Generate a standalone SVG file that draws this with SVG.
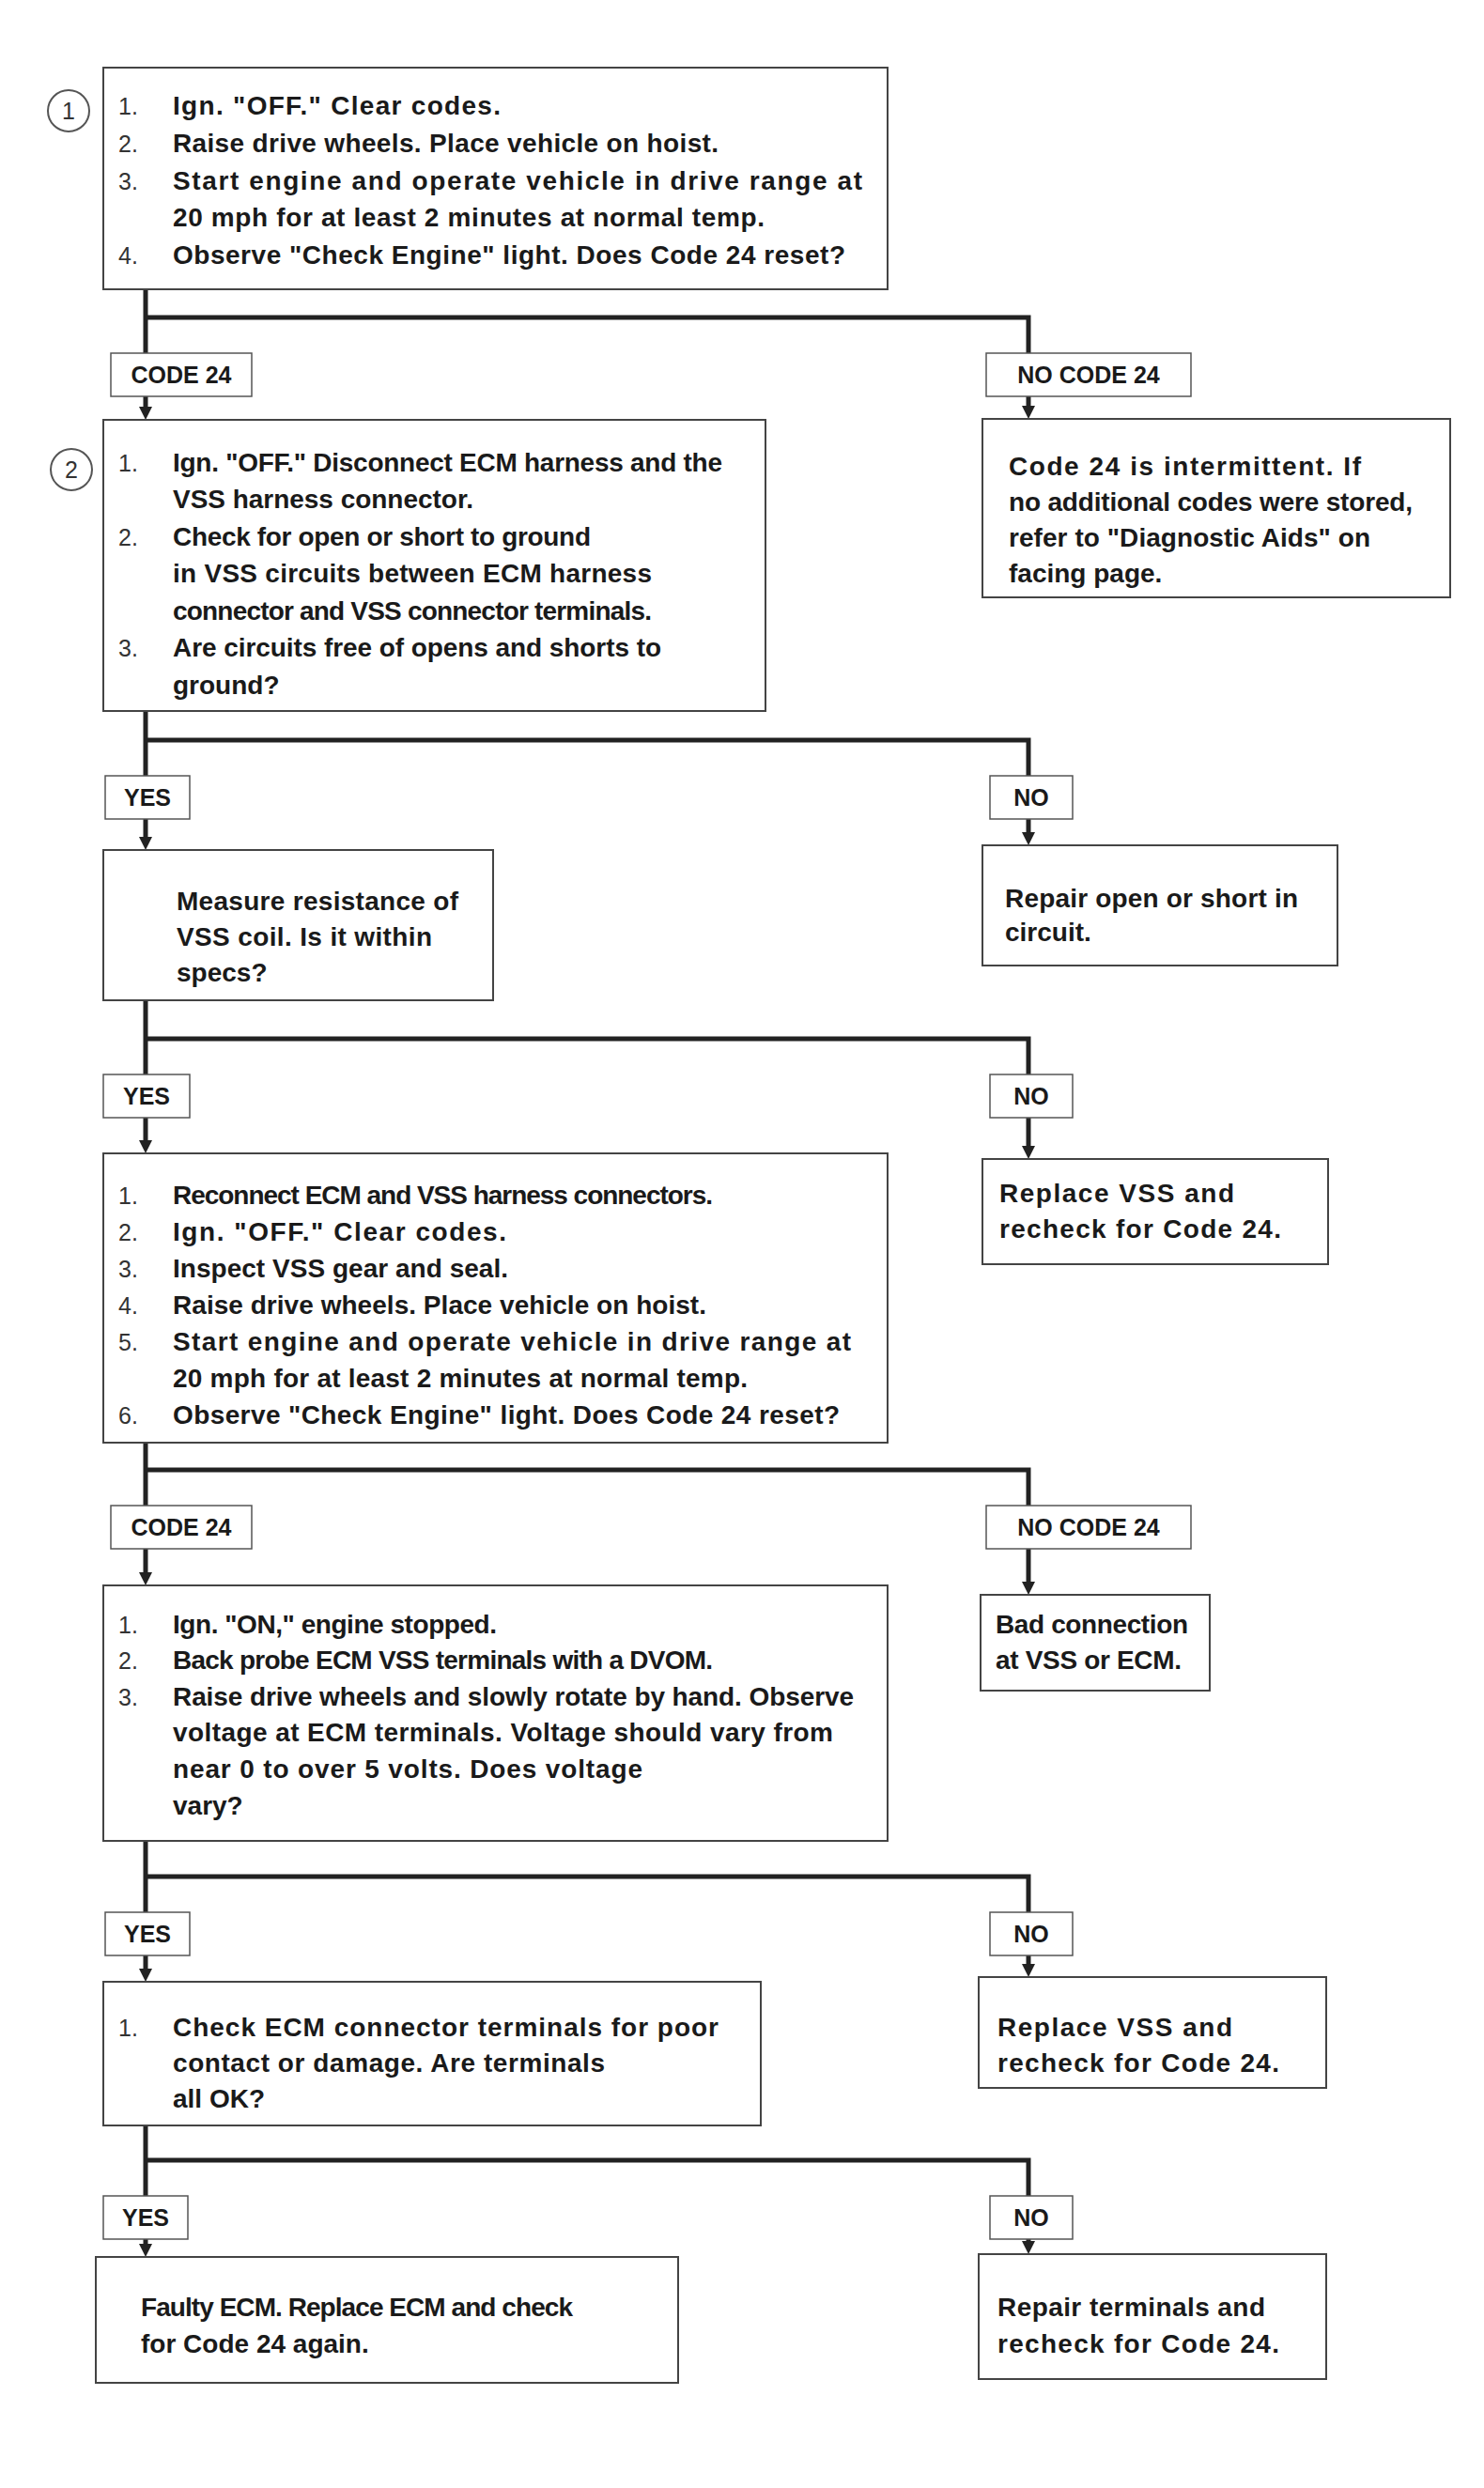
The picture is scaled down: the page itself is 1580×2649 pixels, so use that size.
<svg xmlns="http://www.w3.org/2000/svg" width="1580" height="2649" viewBox="0 0 1580 2649">
<style>
.box{fill:#fff;stroke:#444;stroke-width:2}
.lbl{fill:#fff;stroke:#555;stroke-width:1.5}
.t{font-family:"Liberation Sans",Arial,sans-serif;font-weight:bold;font-size:28px;fill:#1a1a1a}
.n{font-family:"Liberation Sans",Arial,sans-serif;font-size:25px;fill:#333}
.lt{font-family:"Liberation Sans",Arial,sans-serif;font-weight:bold;font-size:25px;fill:#1a1a1a;text-anchor:middle}
.c{fill:#fff;stroke:#555;stroke-width:2}
.ct{font-family:"Liberation Sans",Arial,sans-serif;font-size:25px;fill:#333;text-anchor:middle}
.ln{fill:none;stroke:#222;stroke-width:5;stroke-linejoin:miter}
.ar{fill:none;stroke:#222;stroke-width:5}
</style>
<defs>
<marker id="arr" viewBox="0 0 14 14" markerWidth="14" markerHeight="14" refX="0" refY="7" orient="auto" markerUnits="userSpaceOnUse">
<path d="M0,0 L14,7 L0,14 z" fill="#222"/>
</marker>
</defs>
<rect width="1580" height="2649" fill="#fff"/>

<g id="connectors">
<path class="ln" d="M155,308 V338 H1095 V376 M155,338 V376"/>
<path class="ar" d="M155,422 V433" marker-end="url(#arr)"/>
<path class="ar" d="M1095,422 V432" marker-end="url(#arr)"/>
<path class="ln" d="M155,757 V788 H1095 V826 M155,788 V826"/>
<path class="ar" d="M155,872 V891" marker-end="url(#arr)"/>
<path class="ar" d="M1095,872 V886" marker-end="url(#arr)"/>
<path class="ln" d="M155,1065 V1106 H1095 V1144 M155,1106 V1144"/>
<path class="ar" d="M155,1190 V1214" marker-end="url(#arr)"/>
<path class="ar" d="M1095,1190 V1220" marker-end="url(#arr)"/>
<path class="ln" d="M155,1536 V1565 H1095 V1603 M155,1565 V1603"/>
<path class="ar" d="M155,1649 V1674" marker-end="url(#arr)"/>
<path class="ar" d="M1095,1649 V1684" marker-end="url(#arr)"/>
<path class="ln" d="M155,1960 V1998 H1095 V2036 M155,1998 V2036"/>
<path class="ar" d="M155,2082 V2096" marker-end="url(#arr)"/>
<path class="ar" d="M1095,2082 V2091" marker-end="url(#arr)"/>
<path class="ln" d="M155,2263 V2300 H1095 V2338 M155,2300 V2338"/>
<path class="ar" d="M155,2384 V2389" marker-end="url(#arr)"/>
<path class="ar" d="M1095,2384 V2386" marker-end="url(#arr)"/>
</g>

<g id="marker1"><circle class="c" cx="73" cy="118" r="22"/><text class="ct" x="73" y="127">1</text></g>
<g id="marker2"><circle class="c" cx="76" cy="500" r="22"/><text class="ct" x="76" y="509">2</text></g>

<g id="boxA">
<rect class="box" x="110" y="72" width="835" height="236"/>
<text class="n" x="126" y="122">1.</text><text class="t" x="184" y="122" textLength="349">Ign. "OFF." Clear codes.</text>
<text class="n" x="126" y="162">2.</text><text class="t" x="184" y="162" textLength="581">Raise drive wheels. Place vehicle on hoist.</text>
<text class="n" x="126" y="202">3.</text><text class="t" x="184" y="202" textLength="734">Start engine and operate vehicle in drive range at</text>
<text class="t" x="184" y="241" textLength="630">20 mph for at least 2 minutes at normal temp.</text>
<text class="n" x="126" y="281">4.</text><text class="t" x="184" y="281" textLength="716">Observe "Check Engine" light. Does Code 24 reset?</text>
</g>

<g id="label1L"><rect class="lbl" x="118" y="376" width="150" height="46"/><text class="lt" x="193" y="408">CODE 24</text></g>
<g id="label1R"><rect class="lbl" x="1050" y="376" width="218" height="46"/><text class="lt" x="1159" y="408">NO CODE 24</text></g>

<g id="boxB">
<rect class="box" x="1046" y="446" width="498" height="190"/>
<text class="t" x="1074" y="506" textLength="375">Code 24 is intermittent. If</text>
<text class="t" x="1074" y="544" textLength="430">no additional codes were stored,</text>
<text class="t" x="1074" y="582" textLength="385">refer to "Diagnostic Aids" on</text>
<text class="t" x="1074" y="620">facing page.</text>
</g>

<g id="boxC">
<rect class="box" x="110" y="447" width="705" height="310"/>
<text class="n" x="126" y="502">1.</text><text class="t" x="184" y="502" textLength="585">Ign. "OFF." Disconnect ECM harness and the</text>
<text class="t" x="184" y="541" textLength="320">VSS harness connector.</text>
<text class="n" x="126" y="581">2.</text><text class="t" x="184" y="581" textLength="445">Check for open or short to ground</text>
<text class="t" x="184" y="620" textLength="510">in VSS circuits between ECM harness</text>
<text class="t" x="184" y="660" textLength="510">connector and VSS connector terminals.</text>
<text class="n" x="126" y="699">3.</text><text class="t" x="184" y="699" textLength="520">Are circuits free of opens and shorts to</text>
<text class="t" x="184" y="739">ground?</text>
</g>

<g id="label2L"><rect class="lbl" x="112" y="826" width="90" height="46"/><text class="lt" x="157" y="858">YES</text></g>
<g id="label2R"><rect class="lbl" x="1054" y="826" width="88" height="46"/><text class="lt" x="1098" y="858">NO</text></g>

<g id="boxD">
<rect class="box" x="110" y="905" width="415" height="160"/>
<text class="t" x="188" y="969" textLength="300">Measure resistance of</text>
<text class="t" x="188" y="1007" textLength="272">VSS coil. Is it within</text>
<text class="t" x="188" y="1045">specs?</text>
</g>

<g id="boxE">
<rect class="box" x="1046" y="900" width="378" height="128"/>
<text class="t" x="1070" y="966" textLength="312">Repair open or short in</text>
<text class="t" x="1070" y="1002">circuit.</text>
</g>

<g id="label3L"><rect class="lbl" x="110" y="1144" width="92" height="46"/><text class="lt" x="156" y="1176">YES</text></g>
<g id="label3R"><rect class="lbl" x="1054" y="1144" width="88" height="46"/><text class="lt" x="1098" y="1176">NO</text></g>

<g id="boxF">
<rect class="box" x="110" y="1228" width="835" height="308"/>
<text class="n" x="126" y="1282">1.</text><text class="t" x="184" y="1282" textLength="575">Reconnect ECM and VSS harness connectors.</text>
<text class="n" x="126" y="1321">2.</text><text class="t" x="184" y="1321" textLength="355">Ign. "OFF." Clear codes.</text>
<text class="n" x="126" y="1360">3.</text><text class="t" x="184" y="1360" textLength="357">Inspect VSS gear and seal.</text>
<text class="n" x="126" y="1399">4.</text><text class="t" x="184" y="1399" textLength="568">Raise drive wheels. Place vehicle on hoist.</text>
<text class="n" x="126" y="1438">5.</text><text class="t" x="184" y="1438" textLength="722">Start engine and operate vehicle in drive range at</text>
<text class="t" x="184" y="1477" textLength="612">20 mph for at least 2 minutes at normal temp.</text>
<text class="n" x="126" y="1516">6.</text><text class="t" x="184" y="1516" textLength="710">Observe "Check Engine" light. Does Code 24 reset?</text>
</g>

<g id="boxG">
<rect class="box" x="1046" y="1234" width="368" height="112"/>
<text class="t" x="1064" y="1280" textLength="250">Replace VSS and</text>
<text class="t" x="1064" y="1318" textLength="300">recheck for Code 24.</text>
</g>

<g id="label4L"><rect class="lbl" x="118" y="1603" width="150" height="46"/><text class="lt" x="193" y="1635">CODE 24</text></g>
<g id="label4R"><rect class="lbl" x="1050" y="1603" width="218" height="46"/><text class="lt" x="1159" y="1635">NO CODE 24</text></g>

<g id="boxH">
<rect class="box" x="110" y="1688" width="835" height="272"/>
<text class="n" x="126" y="1739">1.</text><text class="t" x="184" y="1739" textLength="345">Ign. "ON," engine stopped.</text>
<text class="n" x="126" y="1777">2.</text><text class="t" x="184" y="1777" textLength="575">Back probe ECM VSS terminals with a DVOM.</text>
<text class="n" x="126" y="1816">3.</text><text class="t" x="184" y="1816" textLength="725">Raise drive wheels and slowly rotate by hand. Observe</text>
<text class="t" x="184" y="1854" textLength="703">voltage at ECM terminals. Voltage should vary from</text>
<text class="t" x="184" y="1893" textLength="500">near 0 to over 5 volts. Does voltage</text>
<text class="t" x="184" y="1932">vary?</text>
</g>

<g id="boxI">
<rect class="box" x="1044" y="1698" width="244" height="102"/>
<text class="t" x="1060" y="1739" textLength="205">Bad connection</text>
<text class="t" x="1060" y="1777" textLength="198">at VSS or ECM.</text>
</g>

<g id="label5L"><rect class="lbl" x="112" y="2036" width="90" height="46"/><text class="lt" x="157" y="2068">YES</text></g>
<g id="label5R"><rect class="lbl" x="1054" y="2036" width="88" height="46"/><text class="lt" x="1098" y="2068">NO</text></g>

<g id="boxJ">
<rect class="box" x="110" y="2110" width="700" height="153"/>
<text class="n" x="126" y="2168">1.</text><text class="t" x="184" y="2168" textLength="581">Check ECM connector terminals for poor</text>
<text class="t" x="184" y="2206" textLength="460">contact or damage. Are terminals</text>
<text class="t" x="184" y="2244">all OK?</text>
</g>

<g id="boxK">
<rect class="box" x="1042" y="2105" width="370" height="118"/>
<text class="t" x="1062" y="2168" textLength="250">Replace VSS and</text>
<text class="t" x="1062" y="2206" textLength="300">recheck for Code 24.</text>
</g>

<g id="label6L"><rect class="lbl" x="110" y="2338" width="90" height="46"/><text class="lt" x="155" y="2370">YES</text></g>
<g id="label6R"><rect class="lbl" x="1054" y="2338" width="88" height="46"/><text class="lt" x="1098" y="2370">NO</text></g>

<g id="boxL">
<rect class="box" x="102" y="2403" width="620" height="134"/>
<text class="t" x="150" y="2466" textLength="460">Faulty ECM. Replace ECM and check</text>
<text class="t" x="150" y="2505">for Code 24 again.</text>
</g>

<g id="boxM">
<rect class="box" x="1042" y="2400" width="370" height="133"/>
<text class="t" x="1062" y="2466" textLength="285">Repair terminals and</text>
<text class="t" x="1062" y="2505" textLength="300">recheck for Code 24.</text>
</g>
</svg>
